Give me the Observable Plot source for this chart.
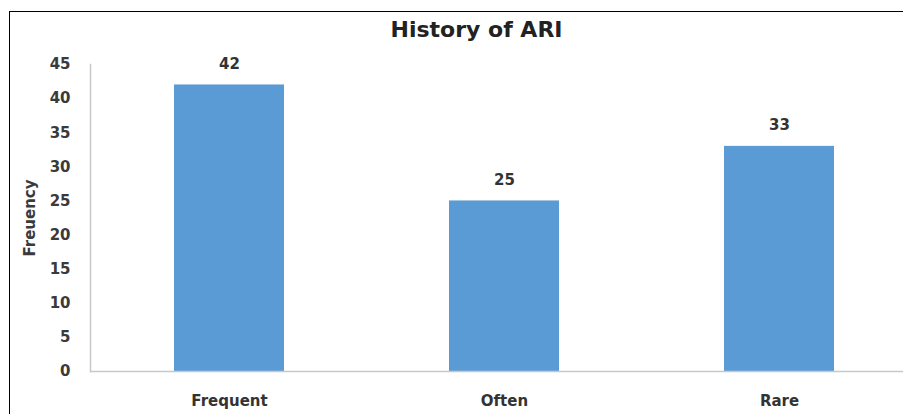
<!DOCTYPE html>
<html>
<head>
<meta charset="utf-8">
<script src="https://cdn.jsdelivr.net/npm/d3@7"></script>
<script src="https://cdn.jsdelivr.net/npm/@observablehq/plot@0.6"></script>
<style>
  html, body { margin: 0; padding: 0; background: #fff; }
  #wrap { position: relative; width: 903px; height: 414px; overflow: hidden; font-family: "DejaVu Sans", sans-serif; }
  #border { position: absolute; left: 9px; top: 11px; right: -5px; bottom: -5px; border-top: 1.5px solid #000; border-left: 1.5px solid #000; pointer-events: none; }
  #title { height: 50px; line-height: 38px; text-align: center; font-size: 22px; font-weight: 700; color: #222; padding-left: 50px; padding-top: 11px; box-sizing: border-box; }
</style>
</head>
<body>
<div id="wrap">
  <div id="border"></div>
  <div id="title">History of ARI</div>
  <div id="chart"></div>
</div>
<script>
const categories = ["Frequent", "Often", "Rare"];
const values = [42, 25, 33];
const yTicks = [0, 5, 10, 15, 20, 25, 30, 35, 40, 45];

const data = categories.map((c, i) => ({category: c, value: values[i]}));

const plot = Plot.plot({
  width: 903,
  height: 364,
  marginTop: 14,
  marginBottom: 43,
  marginLeft: 90,
  marginRight: 0,
  style: {fontFamily: "'DejaVu Sans', sans-serif", fontSize: "15px", fontWeight: 700, color: "#404040", background: "transparent", overflow: "visible"},
  x: {domain: categories, range: [90, 917], paddingInner: 0.6, paddingOuter: 0.3, label: null},
  y: {domain: [0, 45], label: "Freuency", ticks: yTicks},
  marks: [
    Plot.barY(data, {x: "category", y: "value", fill: "#5b9bd5"}),
    Plot.ruleY([0], {stroke: "#c8c8c8", strokeWidth: 1.5}),
    Plot.axisY({ticks: yTicks, tickSize: 0, tickPadding: 20, fontSize: 15, fontWeight: 700, fill: "#3a3a3a", label: "Freuency", labelAnchor: "center", labelArrow: "none", labelOffset: 66}),
    Plot.axisX({tickSize: 0, tickPadding: 24, fontSize: 15, fontWeight: 700, fill: "#333", label: null}),
    Plot.frame({anchor: "left", stroke: "#c8c8c8", strokeWidth: 1.5}),
    Plot.text(data, {x: "category", y: "value", text: d => String(d.value), dy: -21, fontSize: 15, fontWeight: 700, fill: "#333"})
  ]
});
document.getElementById("chart").appendChild(plot);
</script>
</body>
</html>
